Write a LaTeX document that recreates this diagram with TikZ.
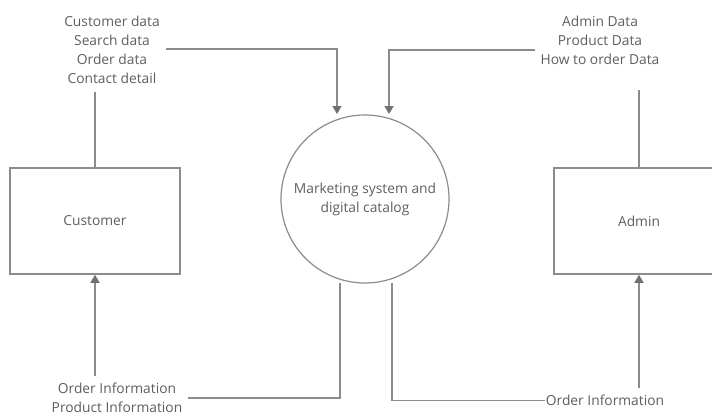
\documentclass[tikz,border=0pt]{standalone}
\usepackage{fontspec}
\setmainfont{Open Sans}
\usetikzlibrary{arrows.meta}
\definecolor{linegray}{HTML}{8C8C8C}
\definecolor{textgray}{HTML}{5E5E5E}
\definecolor{tipgray}{HTML}{707070}
\tikzset{
  every node/.style={font=\fontsize{13.8}{19}\selectfont, text=textgray},
  entity/.style={draw=linegray, line width=1.6pt, minimum width=170pt, minimum height=106pt, inner sep=0pt},
  process/.style={draw=linegray, line width=1.2pt, circle, minimum size=168pt, inner sep=0pt, align=center},
  label/.style={align=center, inner sep=1pt},
  flow/.style={draw=linegray, line width=1.6pt},
  flowarrow/.style={flow, -{Triangle[width=9pt,length=8pt,fill=tipgray,color=tipgray]}}
}
\begin{document}
\begin{tikzpicture}[x=1pt, y=-1pt]
\useasboundingbox (0,0) rectangle (712,416);

% entities and the central process
\node[entity] (cust) at (95,221) {Customer};
\node[entity] (admin) at (639,221) {Admin};
\node[process] (proc) at (365,199) {Marketing system and\\digital catalog};

% data flow labels
\node[label] (custin) at (112,49.5) {Customer data\\Search data\\Order data\\Contact detail};
\node[label] (adminin) at (600,40) {Admin Data\\Product Data\\How to order Data};
\node[label] (custout) at (117,397.5) {Order Information\\Product Information};
\node[label] (adminout) at (605,400.5) {Order Information};

% auxiliary points on the circle
\coordinate (pin1) at (337,114);
\coordinate (pin2) at (389,114);
\coordinate (pout1) at (340,283);
\coordinate (pout2) at (392,283);

% customer data into the process
\draw[flow] (cust.north) -- (95,92);
\draw[flowarrow] (166,49) -| (pin1);

% admin data into the process
\draw[flow] (admin.north) -- (639,90);
\draw[flowarrow] (535,50) -| (pin2);

% information back to the customer
\draw[flow] (pout1) |- (188,398);
\draw[flowarrow] (95,376) -- (cust.south);

% information back to the admin
\draw[flow] (pout2) |- (adminout.west);
\draw[flowarrow] (639,388) -- (admin.south);
\end{tikzpicture}
\end{document}
